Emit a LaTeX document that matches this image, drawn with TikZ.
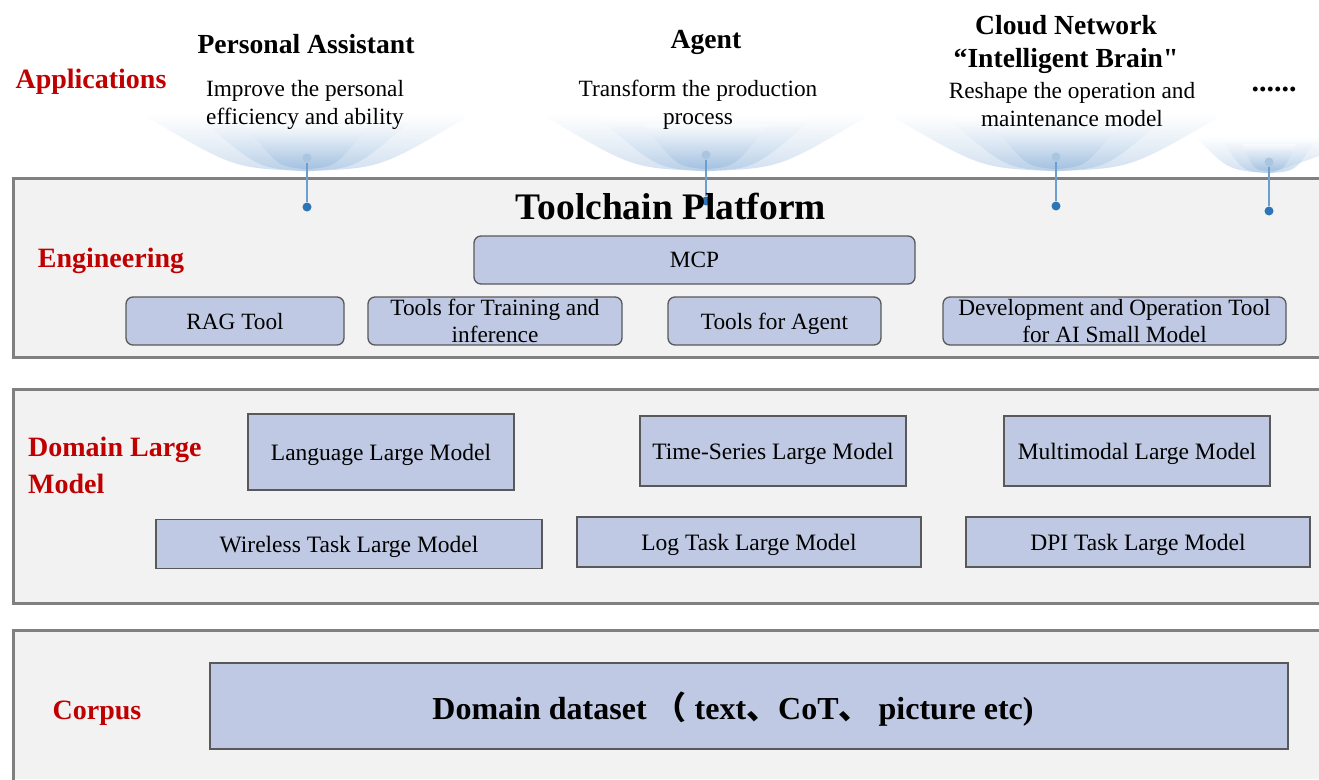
\documentclass[tikz,border=0pt]{standalone}
\usepackage{fontspec}
\setmainfont{Liberation Serif}[Ligatures=TeXOff]
\newfontfamily\cjk{Noto Sans CJK SC}
\definecolor{panelfill}{HTML}{F2F2F2}
\definecolor{panelline}{HTML}{808080}
\definecolor{boxfill}{HTML}{BFC9E3}
\definecolor{boxline}{HTML}{595959}
\definecolor{labred}{HTML}{C00000}
\definecolor{glowa}{HTML}{C4D7EC}
\definecolor{glowb}{HTML}{A3C2E2}
\definecolor{glowc}{HTML}{8DB3DA}
\definecolor{dotlight}{HTML}{A9C5E0}
\definecolor{dotdark}{HTML}{2E75B6}
\definecolor{stem}{HTML}{6A9FD0}
\tikzset{
  panel/.style={fill=panelfill,draw=none},
  panelborder/.style={draw=panelline,line width=3pt},
  toolbox/.style={draw=boxline,fill=boxfill,line width=1.3pt,rounded corners=7pt,inner sep=0pt,align=center,text depth=0pt,font=\fontsize{23.3}{27}\selectfont},
  modelbox/.style={draw=boxline,fill=boxfill,line width=1.2pt,inner sep=0pt,align=center,text depth=0pt,font=\fontsize{23.5}{26}\selectfont},
  redlabel/.style={text=labred,font=\bfseries\fontsize{28}{37}\selectfont,inner sep=0pt},
  apptitle/.style={font=\bfseries\fontsize{27.6}{33}\selectfont,inner sep=0pt,align=center},
  appsub/.style={font=\fontsize{23.3}{28}\selectfont,inner sep=0pt,align=center},
  lightdot/.style={circle,fill=dotlight,minimum size=9pt,inner sep=0pt},
  darkdot/.style={circle,fill=dotdark,minimum size=9pt,inner sep=0pt},
  stemline/.style={draw=stem,line width=1.5pt},
  glowshade/.style n args={2}{top color=white,middle color=#1!90,bottom color=#1,opacity=#2}
}
\begin{document}
\begin{tikzpicture}[x=1pt,y=-1pt]
\useasboundingbox[fill=white] (0,0) rectangle (1319,779);
% glows
\foreach \cx/\w in {307/165,706/165,1056/168}{
  \shade[glowshade={glowa}{0.75}] (\cx-\w,114) -- (\cx+\w,114) .. controls (\cx+0.45*\w,168) .. (\cx+4,171) -- (\cx-4,171) .. controls (\cx-0.45*\w,168) .. (\cx-\w,114) -- cycle;
  \shade[glowshade={glowb}{0.55}] (\cx-0.65*\w,118) -- (\cx+0.65*\w,118) .. controls (\cx+0.3*\w,168) .. (\cx+4,171) -- (\cx-4,171) .. controls (\cx-0.3*\w,168) .. (\cx-0.65*\w,118) -- cycle;
  \shade[glowshade={glowc}{0.5}] (\cx-0.38*\w,124) -- (\cx+0.38*\w,124) .. controls (\cx+0.18*\w,166) .. (\cx+3,169) -- (\cx-3,169) .. controls (\cx-0.18*\w,166) .. (\cx-0.38*\w,124) -- cycle;
}
\shade[glowshade={glowa}{0.75}] (1195,136) -- (1319,136) -- (1319,156) -- (1271,173) -- (1267,173) .. controls (1228,170) .. (1195,136) -- cycle;
\shade[glowshade={glowb}{0.55}] (1222,139) -- (1316,139) .. controls (1296,171) .. (1271,173) -- (1267,173) .. controls (1242,171) .. (1222,139) -- cycle;
\shade[glowshade={glowc}{0.5}] (1242,144) -- (1296,144) .. controls (1284,170) .. (1270,171) -- (1268,171) .. controls (1254,170) .. (1242,144) -- cycle;
% panels
\fill[panel] (13,178) rectangle (1319,357);
\draw[panelborder] (1319,178) -- (13,178) -- (13,357) -- (1319,357);
\fill[panel] (13,389) rectangle (1319,603);
\draw[panelborder] (1319,389) -- (13,389) -- (13,603) -- (1319,603);
\fill[panel] (13,630) rectangle (1319,779);
\draw[panelborder] (1319,630) -- (13,630) -- (13,781);
% stems
\node[lightdot] (d1t) at (307,158) {};
\node[darkdot] (d1b) at (307,207) {};
\node[lightdot] (d2t) at (706,155) {};
\node[darkdot] (d2b) at (706,201) {};
\node[lightdot] (d3t) at (1056,157) {};
\node[darkdot] (d3b) at (1056,206) {};
\node[lightdot] (d4t) at (1269,162) {};
\node[darkdot] (d4b) at (1269,211) {};
\draw[stemline] (d1t) -- (d1b);
\draw[stemline] (d2t) -- (d2b);
\draw[stemline] (d3t) -- (d3b);
\draw[stemline] (d4t) -- (d4b);
% application texts
\node[redlabel] (applab) at (91,82) {Applications};
\node[apptitle] (pa) at (306,44) {Personal Assistant};
\node[appsub] (pasub) at (305,105) {Improve the personal\\efficiency and ability};
\node[apptitle] (ag) at (706,42) {Agent};
\node[appsub] (agsub) at (698,105) {Transform the production\\process};
\node[apptitle] (cn) at (1066,44) {Cloud Network\\“Intelligent Brain"};
\node[appsub] (cnsub) at (1072,105) {Reshape the operation and\\maintenance model};
\node[apptitle,font=\bfseries\fontsize{30}{33}\selectfont] (more) at (1274,89) {......};
% engineering
\node[font=\bfseries\fontsize{37.5}{40}\selectfont,inner sep=0pt] (tp) at (671,206) {Toolchain Platform};
\node[redlabel] (englab) at (111,261) {Engineering};
\node[toolbox,minimum width=441pt,minimum height=48pt] (mcp) at (694.5,260) {MCP};
\node[toolbox,minimum width=218pt,minimum height=48pt] (rag) at (235,321) {RAG Tool};
\node[toolbox,minimum width=254pt,minimum height=48pt] (ttr) at (495,321) {Tools for Training and\\inference};
\node[toolbox,minimum width=213pt,minimum height=48pt] (tag) at (774.5,321) {Tools for Agent};
\node[toolbox,minimum width=343pt,minimum height=48pt] (dev) at (1114.5,321) {Development and Operation Tool\\for AI Small Model};
% domain large model
\node[redlabel,anchor=west,align=left] (dlm) at (28,465) {Domain Large\\Model};
\node[modelbox,minimum width=266pt,minimum height=76pt] (llm) at (381,452) {Language Large Model};
\node[modelbox,minimum width=266pt,minimum height=70pt] (tslm) at (773,451) {Time-Series Large Model};
\node[modelbox,minimum width=266pt,minimum height=70pt] (mmlm) at (1137,451) {Multimodal Large Model};
\node[modelbox,minimum width=386pt,minimum height=49pt] (wtlm) at (349,544) {Wireless Task Large Model};
\node[modelbox,minimum width=344pt,minimum height=50pt] (ltlm) at (749,542) {Log Task Large Model};
\node[modelbox,minimum width=344pt,minimum height=50pt] (dpi) at (1138,542) {DPI Task Large Model};
% corpus
\node[redlabel] (corp) at (97,713) {Corpus};
\node[modelbox,minimum width=1078pt,minimum height=86pt] (dd) at (749,706) {};
\node[font=\bfseries\fontsize{32}{34}\selectfont,inner sep=0pt,text depth=0pt] (ddtext) at (733,706) {Domain dataset {\cjk （} text{\cjk 、}CoT{\cjk 、} picture etc)};
\end{tikzpicture}
\end{document}
